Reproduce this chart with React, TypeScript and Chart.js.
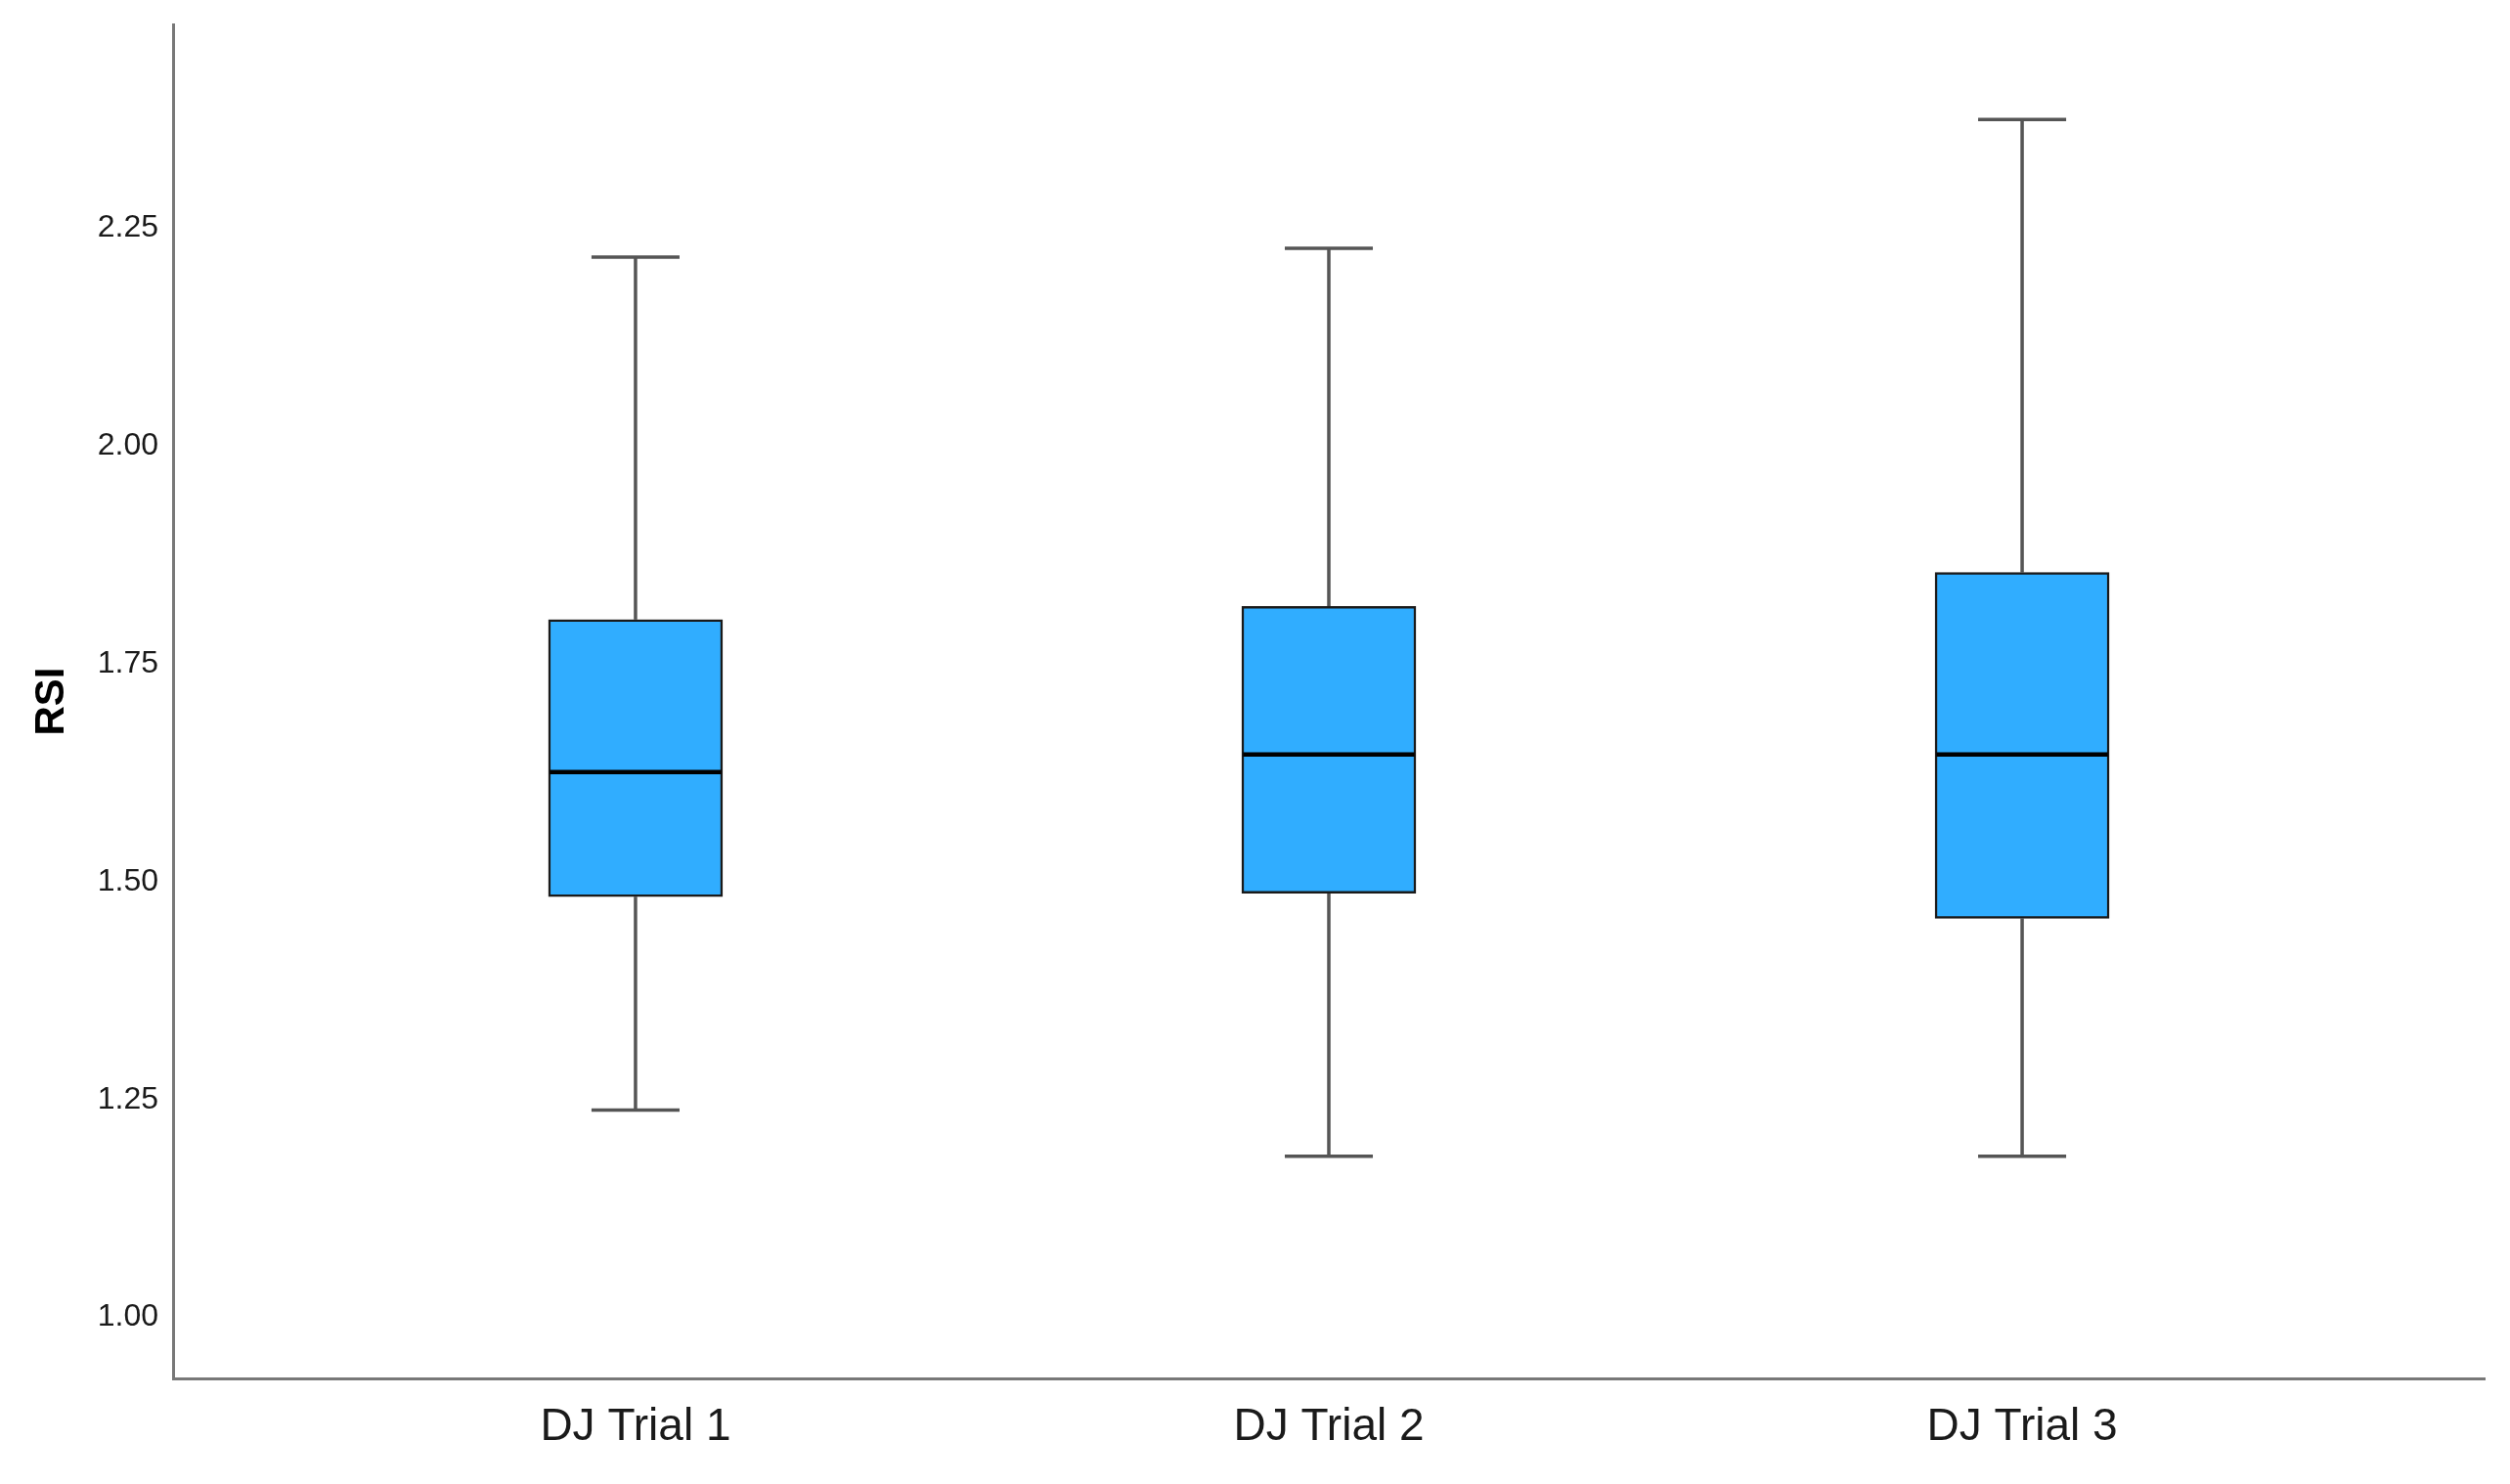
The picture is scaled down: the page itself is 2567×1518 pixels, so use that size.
import React, { useEffect, useRef } from "react";
import { Chart, registerables } from "chart.js";

Chart.register(...registerables);

const categories = ["DJ Trial 1", "DJ Trial 2", "DJ Trial 3"];
const minima = [1.238, 1.185, 1.185];
const q1s = [1.483, 1.487, 1.458];
const medians = [1.626, 1.646, 1.646];
const q3s = [1.801, 1.816, 1.855];
const maxima = [2.217, 2.227, 2.375];
const yTicks = [1.0, 1.25, 1.5, 1.75, 2.0, 2.25];

const X_MIN = 0.333;
const X_MAX = 3.667;
const BOX_HALF = 0.1256;
const CAP_HALF = 0.0635;
const FONT = "'Liberation Sans', Arial, sans-serif";

export default function App() {
  const ref = useRef<HTMLCanvasElement | null>(null);

  useEffect(() => {
    if (!ref.current) return;
    const whiskers: any[] = [];
    const caps: any[] = [];
    const meds: any[] = [];
    categories.forEach((_, i) => {
      const x = i + 1;
      whiskers.push({ x, y: minima[i] }, { x, y: q1s[i] }, { x, y: null });
      whiskers.push({ x, y: q3s[i] }, { x, y: maxima[i] }, { x, y: null });
      caps.push({ x: x - CAP_HALF, y: maxima[i] }, { x: x + CAP_HALF, y: maxima[i] }, { x, y: null });
      caps.push({ x: x - CAP_HALF, y: minima[i] }, { x: x + CAP_HALF, y: minima[i] }, { x, y: null });
      meds.push({ x: x - BOX_HALF + 0.002, y: medians[i] }, { x: x + BOX_HALF - 0.002, y: medians[i] }, { x, y: null });
    });
    const boxes = categories.map((_, i) => ({ x: i + 1, y: [q1s[i], q3s[i]] }));

    const chart = new Chart(ref.current, {
      type: "bar",
      data: {
        datasets: [
          {
            type: "line",
            data: meds,
            borderColor: "#000000",
            borderWidth: 4.5,
            pointRadius: 0,
            spanGaps: false,
            borderCapStyle: "butt",
            order: 0,
          } as any,
          {
            type: "bar",
            data: boxes,
            backgroundColor: "#30adff",
            borderColor: "#1a1a1a",
            borderWidth: 2.5,
            borderSkipped: false,
            barThickness: 178,
            order: 1,
          } as any,
          {
            type: "line",
            data: whiskers,
            borderColor: "#555555",
            borderWidth: 3.5,
            pointRadius: 0,
            spanGaps: false,
            order: 2,
          } as any,
          {
            type: "line",
            data: caps,
            borderColor: "#555555",
            borderWidth: 3.5,
            pointRadius: 0,
            spanGaps: false,
            borderCapStyle: "butt",
            order: 2,
          } as any,
        ],
      },
      options: {
        responsive: false,
        animation: false,
        layout: { padding: { left: 0, top: 25, right: 26, bottom: 0 } },
        plugins: { legend: { display: false }, tooltip: { enabled: false } },
        scales: {
          x: {
            type: "linear",
            min: X_MIN,
            max: X_MAX,
            offset: false,
            bounds: "data",
            grid: { display: false, drawTicks: false, offset: false },
            border: { display: true, color: "#787878", width: 3 },
            ticks: {
              padding: 23,
              color: "#1a1a1a",
              font: { family: FONT, size: 46 },
              maxRotation: 0,
              autoSkip: false,
              callback: (v: any) => categories[Math.round(v) - 1] ?? "",
            },
            afterDataLimits: (s: any) => {
              s.min = X_MIN;
              s.max = X_MAX;
            },
            afterBuildTicks: (s: any) => {
              s.ticks = categories.map((_, i) => ({ value: i + 1 }));
              s.min = X_MIN;
              s.max = X_MAX;
            },
            afterFit: (s: any) => {
              s.height = 108;
              s.paddingLeft = 0;
              s.paddingRight = 0;
            },
          },
          y: {
            type: "linear",
            min: 0.93,
            max: 2.484,
            grid: { display: false, drawTicks: false },
            border: { display: true, color: "#787878", width: 3 },
            ticks: {
              padding: 15,
              color: "#1a1a1a",
              font: { family: FONT, size: 32 },
              callback: (v: any) => Number(v).toFixed(2),
            },
            afterBuildTicks: (s: any) => {
              s.ticks = yTicks.map((v) => ({ value: v }));
            },
            afterFit: (s: any) => {
              s.width = 177;
              s.paddingTop = 0;
              s.paddingBottom = 0;
            },
            title: {
              display: true,
              text: "RSI",
              color: "#000000",
              font: { family: FONT, size: 42, weight: "bold" },
              padding: { top: 28, bottom: 0 },
            },
          },
        },
      },
    });
    return () => chart.destroy();
  }, []);

  return (
    <div style={{ position: "absolute", left: 0, top: 0, width: 2567, height: 1518, background: "#ffffff" }}>
      <canvas ref={ref} width={2567} height={1518} style={{ display: "block" }} />
    </div>
  );
}
